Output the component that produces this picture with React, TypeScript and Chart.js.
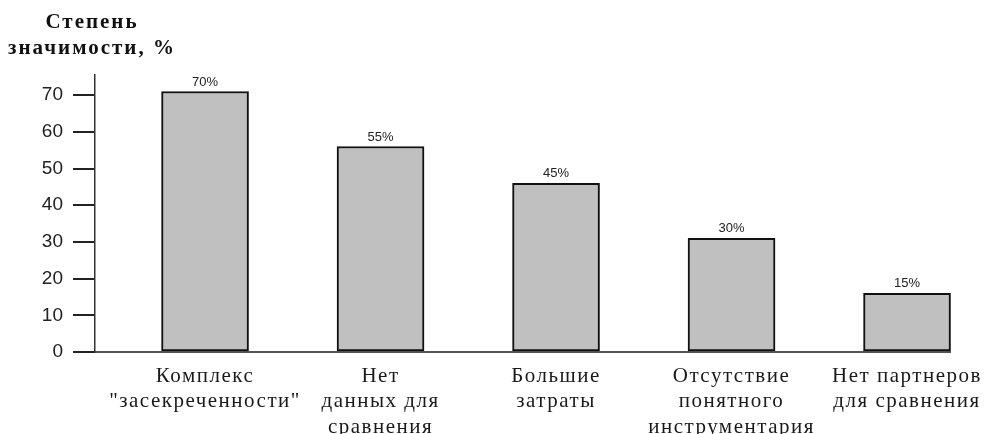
import React, { useEffect, useRef } from "react";
import { Chart, registerables } from "chart.js";

Chart.register(...registerables);

const categories: string[][] = [
  ["Комплекс", "\"засекреченности\""],
  ["Нет", "данных для", "сравнения"],
  ["Большие", "затраты"],
  ["Отсутствие", "понятного", "инструментария"],
  ["Нет партнеров", "для сравнения"],
];
const barValues: number[] = [71, 56, 46, 31, 16];
const valueLabels: string[] = ["70%", "55%", "45%", "30%", "15%"];
const yTicks: number[] = [0, 10, 20, 30, 40, 50, 60, 70];
const titleLines: string[] = ["Степень", "значимости, %"];

const spacingPlugin = {
  id: "spacing",
  afterLayout(chart: any) {
    const x = chart.scales.x;
    if (x && !x.__patched) {
      const orig = x.drawLabels.bind(x);
      x.drawLabels = (area: any) => {
        const ctx = chart.ctx;
        const prev = ctx.letterSpacing;
        ctx.letterSpacing = "1.5px";
        orig(area);
        ctx.letterSpacing = prev || "0px";
      };
      x.__patched = true;
    }
  },
};

const labelPlugin = {
  id: "valueLabels",
  afterDatasetsDraw(chart: any) {
    const ctx = chart.ctx;
    const meta = chart.getDatasetMeta(0);
    ctx.save();
    ctx.letterSpacing = "0px";
    ctx.font = '13px "Liberation Sans", Arial, sans-serif';
    ctx.fillStyle = "#222";
    ctx.textAlign = "center";
    ctx.textBaseline = "bottom";
    meta.data.forEach((el: any, i: number) => {
      ctx.fillText(valueLabels[i], el.x, el.y - 3);
    });
    ctx.restore();
  },
};

export default function App() {
  const ref = useRef<HTMLCanvasElement | null>(null);
  useEffect(() => {
    if (!ref.current) return;
    const chart = new Chart(ref.current, {
      type: "bar",
      data: {
        datasets: [
          {
            data: barValues.map((v, i) => ({ x: i, y: v })),
            backgroundColor: "#c0c0c0",
            borderColor: "#111",
            borderWidth: 2,
            borderSkipped: false,
            barThickness: 87,
          },
        ],
      },
      options: {
        animation: false,
        responsive: true,
        maintainAspectRatio: false,
        layout: { padding: { top: 75, right: 35, left: 0, bottom: 0 } },
        plugins: { legend: { display: false }, tooltip: { enabled: false } },
        scales: {
          x: {
            type: "linear",
            offset: false,
            min: -0.627,
            max: 4.25,
            grid: { display: false, drawTicks: false },
            border: { display: true, color: "#555", width: 2 },
            afterBuildTicks: (scale: any) => {
              scale.ticks = categories.map((_, i) => ({ value: i }));
            },
            afterFit: (scale: any) => {
              scale.height = 82;
            },
            ticks: {
              autoSkip: false,
              maxRotation: 0,
              padding: 12,
              color: "#1a1a1a",
              font: { family: '"Liberation Serif", "Times New Roman", serif', size: 21, lineHeight: 1.2 },
              callback: (v: any) => categories[Math.round(v)] ?? "",
            },
          },
          y: {
            min: 0,
            max: 75.5,
            grid: { drawOnChartArea: false, drawTicks: true, tickLength: 22, color: "#222", lineWidth: 2 },
            border: { display: true, color: "#333", width: 1.5 },
            afterBuildTicks: (scale: any) => {
              scale.ticks = yTicks.map((v) => ({ value: v }));
            },
            afterFit: (scale: any) => {
              scale.width = 95;
            },
            ticks: {
              padding: 10,
              color: "#222",
              font: { family: '"Liberation Sans", Arial, sans-serif', size: 19 },
            },
          },
        },
      },
      plugins: [spacingPlugin, labelPlugin],
    } as any);
    chart.draw();
    return () => chart.destroy();
  }, []);
  return (
    <div style={{ position: "fixed", left: 0, top: 0, width: 986, height: 434, background: "#fff" }}>
      <canvas ref={ref} />
      <div
        style={{
          position: "absolute",
          left: 0,
          top: 8,
          width: 184,
          textAlign: "center",
          fontFamily: '"Liberation Serif", "Times New Roman", serif',
          fontWeight: "bold",
          fontSize: 21,
          lineHeight: "26px",
          letterSpacing: "2px",
          color: "#111",
        }}
      >
        {titleLines.map((t) => (
          <div key={t}>{t}</div>
        ))}
      </div>
    </div>
  );
}
